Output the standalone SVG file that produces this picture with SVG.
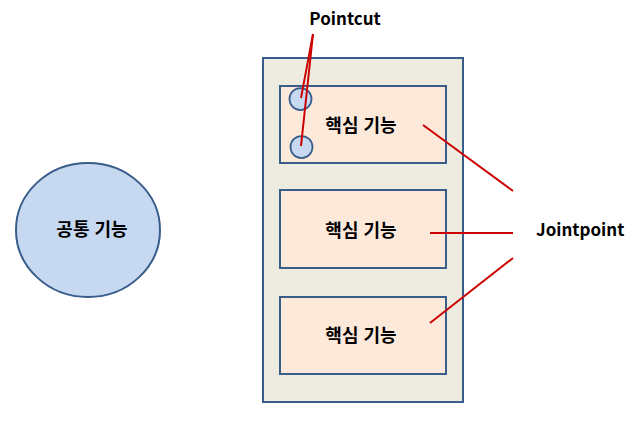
<svg xmlns="http://www.w3.org/2000/svg" width="640" height="428" viewBox="0 0 640 428">
<style>
.t{font-family:"Noto Sans CJK KR","Liberation Sans",sans-serif;font-weight:bold;font-size:17px;fill:#000;}
.k{font-size:18px;word-spacing:1px;}
.box{fill:#FDE9D9;stroke:#385D8A;stroke-width:2;}
.pc{fill:#C6D9F1;stroke:#385D8A;stroke-width:1.75;}
.ln{stroke:#CC0000;stroke-width:2;fill:none;}
</style>
<rect width="640" height="428" fill="#fff"/>
<g id="common">
<ellipse cx="88" cy="230" rx="72" ry="67" fill="#C6D9F1" stroke="#385D8A" stroke-width="2"/>
<text class="t k" x="92" y="236" text-anchor="middle">공통 기능</text>
</g>
<g id="container">
<rect x="263" y="58" width="200" height="344" fill="#EEECE1" stroke="#385D8A" stroke-width="2"/>
</g>
<g id="core1">
<rect class="box" x="280" y="86" width="166" height="77"/>
<text class="t k" x="361" y="132" text-anchor="middle">핵심 기능</text>
</g>
<g id="pc1"><circle class="pc" cx="300.5" cy="99" r="11"/></g>
<g id="pc2"><circle class="pc" cx="301.5" cy="147" r="11"/></g>
<g id="core2">
<rect class="box" x="280" y="190" width="166" height="78"/>
<text class="t k" x="361" y="237" text-anchor="middle">핵심 기능</text>
</g>
<g id="core3">
<rect class="box" x="280" y="297" width="166" height="77"/>
<text class="t k" x="361" y="342" text-anchor="middle">핵심 기능</text>
</g>
<g id="pointcut-label"><text class="t" x="345" y="25" text-anchor="middle">Pointcut</text></g>
<g id="jointpoint-label"><text class="t" x="536" y="236">Jointpoint</text></g>
<g id="connectors">
<line class="ln" x1="313" y1="34" x2="301" y2="98"/>
<line class="ln" x1="313" y1="34" x2="301" y2="146"/>
<line class="ln" x1="423" y1="125" x2="513" y2="191"/>
<line class="ln" x1="430" y1="233" x2="513" y2="233"/>
<line class="ln" x1="513" y1="258" x2="430" y2="323"/>
</g>
</svg>
